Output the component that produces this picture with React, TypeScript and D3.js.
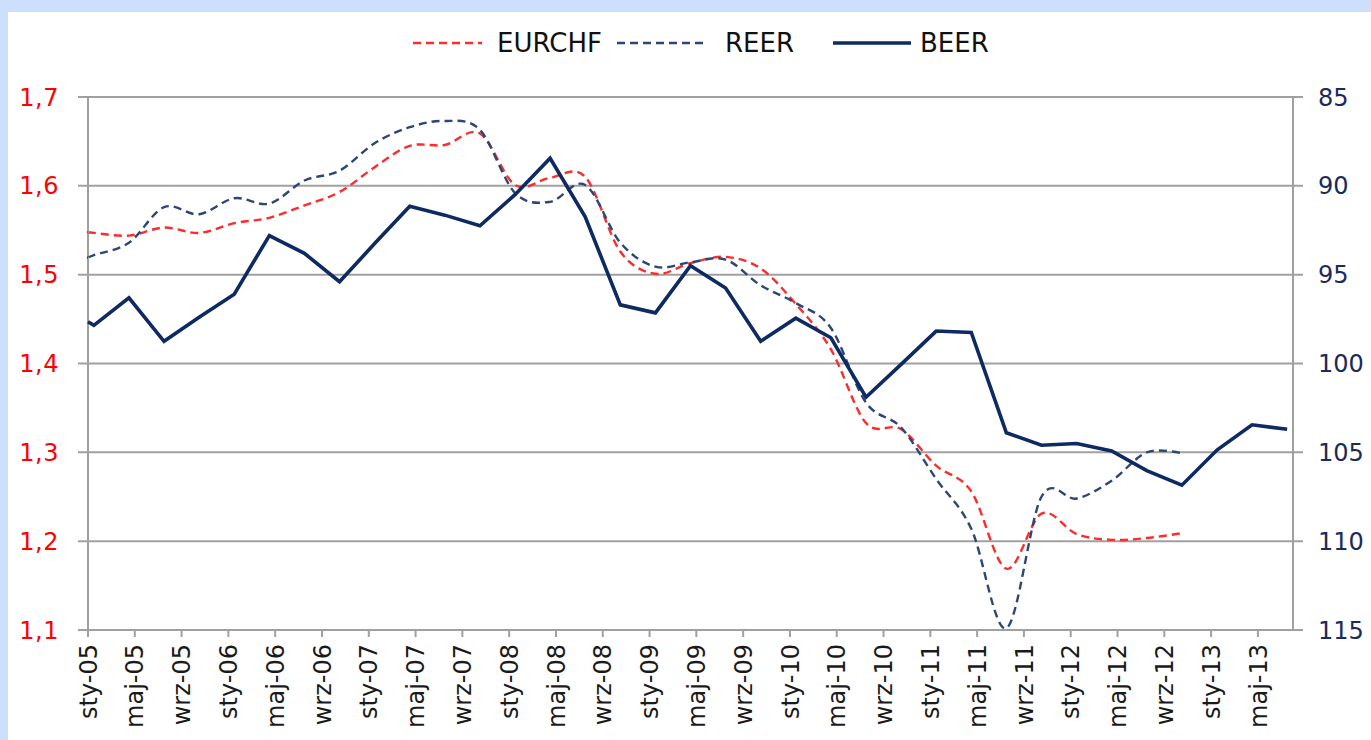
import React from "react";
import * as d3 from "d3";

// Category axis: monthly from sty-05 (Jan 2005) to sie-13 (Aug 2013); labels every 4 months
const tickLabels = [
  "sty-05", "maj-05", "wrz-05", "sty-06", "maj-06", "wrz-06", "sty-07", "maj-07", "wrz-07",
  "sty-08", "maj-08", "wrz-08", "sty-09", "maj-09", "wrz-09", "sty-10", "maj-10", "wrz-10",
  "sty-11", "maj-11", "wrz-11", "sty-12", "maj-12", "wrz-12", "sty-13", "maj-13",
];
const lastMonth = 103; // months after Jan 2005 (Aug 2013)

// Observation positions (months after Jan 2005): a start value, then quarterly
const obsMonths = [0, ...d3.range(35).map((k) => 0.5 + 3 * k)];

// EURCHF (left axis)
const eurchf = [
  1.548, 1.547, 1.544, 1.553, 1.547, 1.558, 1.564, 1.578, 1.593, 1.621, 1.645, 1.646, 1.659,
  1.601, 1.609, 1.61, 1.526, 1.501, 1.513, 1.52, 1.507, 1.467, 1.416, 1.333, 1.326, 1.285,
  1.256, 1.169, 1.231, 1.208, 1.2015, 1.2035, 1.209,
];
// REER (right axis, inverted)
const reer = [
  94.05, 93.9, 93.2, 91.2, 91.6, 90.7, 91.0, 89.7, 89.15, 87.6, 86.7, 86.35, 86.85, 90.4, 90.9,
  89.95, 93.2, 94.55, 94.3, 94.15, 95.6, 96.6, 98.0, 102.2, 103.6, 106.5, 109.3, 114.9, 107.5,
  107.6, 106.6, 105.0, 105.05,
];
// BEER (left axis)
const beer = [
  1.447, 1.443, 1.474, 1.425, 1.452, 1.478, 1.544, 1.524, 1.492, 1.535, 1.577, 1.567, 1.555,
  1.59, 1.631, 1.565, 1.466, 1.457, 1.51, 1.485, 1.425, 1.451, 1.429, 1.362, 1.399, 1.4365,
  1.435, 1.322, 1.308, 1.31, 1.3015, 1.2795, 1.263, 1.3026, 1.331, 1.326,
];

const leftTicks = [1.1, 1.2, 1.3, 1.4, 1.5, 1.6, 1.7];
const rightTicks = [85, 90, 95, 100, 105, 110, 115];

const W = 1371;
const H = 740;
const plot = { left: 88, right: 1293, top: 97, bottom: 630 };

const FONT = "'DejaVu Sans', Verdana, sans-serif";
const RED = "#ff2a2a";
const NAVY = "#0e2a62";
const REER_C = "#2c4677";

export default function App() {
  const x = d3.scaleLinear().domain([0, lastMonth]).range([plot.left, plot.right]);
  const yL = d3.scaleLinear().domain([1.1, 1.7]).range([plot.bottom, plot.top]);
  const yR = d3.scaleLinear().domain([115, 85]).range([plot.bottom, plot.top]);

  const smooth = d3.curveCatmullRom.alpha(0);
  const lineEur = d3
    .line<number>()
    .x((_, i) => x(obsMonths[i]))
    .y((d) => yL(d))
    .curve(smooth);
  const lineReer = d3
    .line<number>()
    .x((_, i) => x(obsMonths[i]))
    .y((d) => yR(d))
    .curve(smooth);
  const lineBeer = d3
    .line<number>()
    .x((_, i) => x(obsMonths[i]))
    .y((d) => yL(d));

  const fmt = (v: number) => v.toFixed(1).replace(".", ",");

  return (
    <svg
      width={W}
      height={H}
      style={{ position: "fixed", left: 0, top: 0 }}
      fontFamily={FONT}
    >
      <rect x={0} y={0} width={W} height={H} fill="#cce0fe" />
      <rect x={8} y={12} width={W - 8} height={H - 12} fill="#ffffff" />

      {/* gridlines */}
      {leftTicks.map((t) => (
        <line
          key={"g" + t}
          x1={plot.left - 10}
          x2={plot.right + 10}
          y1={yL(t)}
          y2={yL(t)}
          stroke="#a0a0a0"
          strokeWidth={2}
        />
      ))}
      {/* axes */}
      <line x1={plot.left} x2={plot.left} y1={plot.top} y2={plot.bottom} stroke="#a0a0a0" strokeWidth={2} />
      <line x1={plot.right} x2={plot.right} y1={plot.top} y2={plot.bottom} stroke="#a0a0a0" strokeWidth={2} />
      {tickLabels.map((lab, i) => (
        <g key={lab}>
          <line
            x1={x(i * 4)}
            x2={x(i * 4)}
            y1={plot.bottom}
            y2={plot.bottom + 7}
            stroke="#a0a0a0"
            strokeWidth={2}
          />
          <text
            transform={`translate(${x(i * 4)},${plot.bottom + 14}) rotate(-90)`}
            textAnchor="end"
            dy="0.36em"
            fontSize={24}
            fill="#1a1a1a"
          >
            {lab}
          </text>
        </g>
      ))}

      {/* left labels */}
      {leftTicks.map((t) => (
        <text
          key={"l" + t}
          x={59}
          y={yL(t)}
          dy="0.36em"
          textAnchor="end"
          fontSize={24}
          letterSpacing={0.5}
          fill="#ff0000"
        >
          {fmt(t)}
        </text>
      ))}
      {/* right labels */}
      {rightTicks.map((t) => (
        <text
          key={"r" + t}
          x={1318}
          y={yR(t)}
          dy="0.36em"
          textAnchor="start"
          fontSize={24}
          fill="#1b2a5c"
        >
          {t}
        </text>
      ))}

      {/* series */}
      <path d={lineEur(eurchf) || ""} fill="none" stroke={RED} strokeWidth={2.4} strokeDasharray="8 5" />
      <path d={lineReer(reer) || ""} fill="none" stroke={REER_C} strokeWidth={2.4} strokeDasharray="8 5" />
      <path d={lineBeer(beer) || ""} fill="none" stroke={NAVY} strokeWidth={3.6} strokeLinejoin="miter" />

      {/* legend */}
      <g fontSize={26} fill="#111">
        <line x1={413} x2={482} y1={43} y2={43} stroke={RED} strokeWidth={2.4} strokeDasharray="8 5" />
        <text x={497} y={43} dy="0.36em">EURCHF</text>
        <line x1={617} x2={703} y1={43} y2={43} stroke={REER_C} strokeWidth={2.4} strokeDasharray="8 5" />
        <text x={725} y={43} dy="0.36em">REER</text>
        <line x1={833} x2={911} y1={43} y2={43} stroke={NAVY} strokeWidth={3.6} />
        <text x={920} y={43} dy="0.36em">BEER</text>
      </g>
    </svg>
  );
}
